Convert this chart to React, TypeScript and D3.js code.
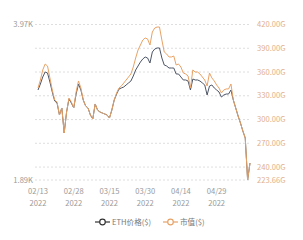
import React from "react";
import * as d3 from "d3";

const dates: string[] = (() => {
  const out: string[] = [];
  const start = new Date(2022, 1, 13);
  for (let i = 0; i < 90; i++) {
    const d = new Date(start.getTime());
    d.setDate(start.getDate() + i);
    out.push(d3.timeFormat("%m/%d")(d));
  }
  return out;
})();

const ethPrice: number[] = [
  3094, 3174, 3268, 3335, 3321, 3201, 3067, 2947, 2920, 2760,
  2853, 2519, 2800, 2974, 2920, 2853, 3040, 3174, 3094, 2960,
  2880, 2853, 2760, 2706, 2907, 2826, 2800, 2786, 2773, 2760,
  2719, 2826, 2960, 3040, 3107, 3121, 3134, 3161, 3188, 3214,
  3281, 3361, 3415, 3468, 3509, 3535, 3522, 3455, 3602, 3642,
  3656, 3656, 3522, 3428, 3415, 3388, 3388, 3388, 3308, 3308,
  3268, 3228, 3228, 3214, 3094, 3241, 3228, 3228, 3214, 3188,
  3161, 3027, 3147, 3161, 3121, 3094, 3067, 3000, 3027, 3040,
  3040, 3094, 2960, 2853, 2746, 2652, 2545, 2452, 1890, 2117,
];

const marketCap: number[] = [
  339.8, 349.9, 362.6, 370.1, 367.6, 352.5, 337.3, 324.7, 322.1, 305.7,
  314.6, 283.0, 309.5, 327.2, 322.1, 314.6, 334.8, 348.7, 339.8, 324.7,
  317.1, 314.6, 305.7, 300.7, 319.6, 312.0, 309.5, 308.3, 307.0, 305.7,
  301.9, 312.0, 324.7, 333.5, 339.8, 342.4, 346.1, 349.9, 353.7, 357.5,
  366.3, 377.7, 387.8, 394.1, 400.4, 403.0, 401.7, 394.1, 410.5, 415.6,
  416.8, 416.8, 400.4, 385.3, 382.8, 379.0, 379.0, 380.2, 368.9, 370.1,
  366.3, 358.8, 357.5, 355.0, 339.8, 362.6, 360.0, 360.0, 357.5, 353.7,
  349.9, 342.4, 358.8, 352.5, 348.7, 343.6, 339.8, 333.5, 337.3, 338.6,
  338.6, 344.9, 324.7, 314.6, 304.5, 295.6, 285.5, 276.7, 223.66, 245.1,
];

const rightTicks: number[] = [240, 270, 300, 330, 360, 390, 420];
const capMin = 223.66;
const capMax = 420;
const priceMin = 1890;
const priceMax = 3970;
const tickIndices: number[] = [0, 15, 30, 45, 60, 75];
const seriesNames: string[] = ["ETH价格($)", "市值($)"];

const DARK = "#4d5566";
const ORANGE = "#e8a266";
const AXIS_ORANGE = "#e2b089";
const GRAY = "#9a9a9a";
const FONT = "'Noto Sans CJK SC', 'Noto Sans', sans-serif";

export default function App() {
  const W = 303;
  const H = 240;
  const x = d3.scaleLinear().domain([0, dates.length - 1]).range([38, 250]);
  const yCap = d3.scaleLinear().domain([capMin, capMax]).range([180, 24.5]);
  const yPrice = d3.scaleLinear().domain([priceMin, priceMax]).range([180, 24.5]);

  const capLine = d3
    .line<number>()
    .x((_, i) => x(i))
    .y((d) => yCap(d));
  const priceLine = d3
    .line<number>()
    .x((_, i) => x(i))
    .y((d) => yPrice(d));

  const gridVals = [capMin, ...rightTicks];

  return (
    <svg
      width={W}
      height={H}
      style={{ position: "absolute", left: 0, top: 0, background: "#fff" }}
      fontFamily={FONT}
    >
      {gridVals.map((v, i) => (
        <line
          key={"g" + i}
          x1={35}
          x2={251}
          y1={yCap(v)}
          y2={yCap(v)}
          stroke="#d6d6d6"
          strokeWidth={0.8}
          strokeDasharray="2,2"
        />
      ))}
      {rightTicks.map((v) => (
        <text
          key={"r" + v}
          x={257}
          y={yCap(v)}
          dy="0.35em"
          fontSize={7.6}
          fill={AXIS_ORANGE}
        >
          {v.toFixed(2) + "G"}
        </text>
      ))}
      <text x={257} y={yCap(capMin)} dy="0.35em" fontSize={7.6} fill={AXIS_ORANGE}>
        {capMin.toFixed(2) + "G"}
      </text>
      <text x={33} y={yPrice(priceMax)} dy="0.35em" fontSize={7.6} fill={GRAY} textAnchor="end">
        {(priceMax / 1000).toFixed(2) + "K"}
      </text>
      <text x={33} y={yPrice(priceMin)} dy="0.35em" fontSize={7.6} fill={GRAY} textAnchor="end">
        {(priceMin / 1000).toFixed(2) + "K"}
      </text>
      {tickIndices.map((i) => (
        <g key={"x" + i}>
          <text x={x(i)} y={191} dy="0.35em" fontSize={7.6} fill={GRAY} textAnchor="middle">
            {dates[i]}
          </text>
          <text x={x(i)} y={203} dy="0.35em" fontSize={7.6} fill={GRAY} textAnchor="middle">
            2022
          </text>
        </g>
      ))}
      <path d={priceLine(ethPrice) || ""} fill="none" stroke={DARK} strokeWidth={1} />
      <path d={capLine(marketCap) || ""} fill="none" stroke={ORANGE} strokeWidth={1} />

      <g>
        <line x1={95} x2={110} y1={222} y2={222} stroke="#333" strokeWidth={1.2} />
        <circle cx={102.5} cy={222} r={2.8} fill="#fff" stroke="#333" strokeWidth={1.2} />
        <text x={112} y={222} dy="0.35em" fontSize={7.6} fill="#777">
          {seriesNames[0]}
        </text>
        <line x1={163} x2={178} y1={222} y2={222} stroke={ORANGE} strokeWidth={1.2} />
        <circle cx={170.5} cy={222} r={2.8} fill="#fff" stroke={ORANGE} strokeWidth={1.2} />
        <text x={180} y={222} dy="0.35em" fontSize={7.6} fill="#777">
          {seriesNames[1]}
        </text>
      </g>
    </svg>
  );
}
